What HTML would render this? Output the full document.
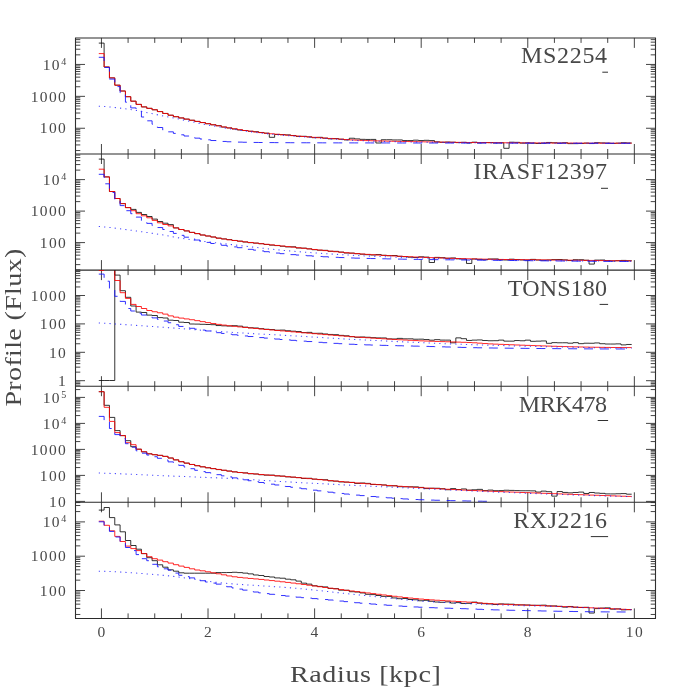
<!DOCTYPE html>
<html><head><meta charset="utf-8"><title>Profiles</title>
<style>
html,body{margin:0;padding:0;background:#fff;}
body{width:692px;height:692px;overflow:hidden;font-family:"Liberation Serif",serif;}
svg{display:block;will-change:transform;}
text{font-family:"Liberation Serif",serif;fill:#484848;}
.tl{font-size:15.5px;letter-spacing:1.3px;}
.sup{font-size:10px;}
.lab{font-size:24px;}
.ttl{font-size:24px;}
.fr{stroke:#303030;fill:none;}
.bk{stroke:#000;stroke-width:0.8;fill:none;}
.rd{stroke:#f00;stroke-width:0.85;fill:none;}
.bd{stroke:#1a1aff;stroke-width:0.9;fill:none;stroke-dasharray:9 7;}
.bt{stroke:#1a1aff;stroke-opacity:0.8;stroke-width:1.05;fill:none;stroke-dasharray:1.2 4.13;}
</style></head><body>
<svg width="692" height="692" viewBox="0 0 692 692">
<rect width="692" height="692" fill="#fff"/>
<defs>
<clipPath id="c0"><rect x="75.5" y="37.70" width="580.0" height="116.70"/></clipPath>
<clipPath id="c1"><rect x="75.5" y="153.80" width="580.0" height="116.70"/></clipPath>
<clipPath id="c2"><rect x="75.5" y="269.90" width="580.0" height="116.70"/></clipPath>
<clipPath id="c3"><rect x="75.5" y="386.00" width="580.0" height="116.70"/></clipPath>
<clipPath id="c4"><rect x="75.5" y="502.10" width="580.0" height="116.70"/></clipPath>
</defs>
<path class="fr" stroke-width="0.9" d="M101.45,37.90v10M101.45,154.00v-10M128.09,37.90v5M128.09,154.00v-5M154.74,37.90v5M154.74,154.00v-5M181.38,37.90v5M181.38,154.00v-5M208.03,37.90v10M208.03,154.00v-10M234.68,37.90v5M234.68,154.00v-5M261.32,37.90v5M261.32,154.00v-5M287.96,37.90v5M287.96,154.00v-5M314.61,37.90v10M314.61,154.00v-10M341.25,37.90v5M341.25,154.00v-5M367.90,37.90v5M367.90,154.00v-5M394.54,37.90v5M394.54,154.00v-5M421.19,37.90v10M421.19,154.00v-10M447.83,37.90v5M447.83,154.00v-5M474.48,37.90v5M474.48,154.00v-5M501.12,37.90v5M501.12,154.00v-5M527.77,37.90v10M527.77,154.00v-10M554.41,37.90v5M554.41,154.00v-5M581.06,37.90v5M581.06,154.00v-5M607.71,37.90v5M607.71,154.00v-5M634.35,37.90v10M634.35,154.00v-10M75.50,150.55h4.8M655.50,150.55h-4.8M75.50,144.93h4.8M655.50,144.93h-4.8M75.50,140.94h4.8M655.50,140.94h-4.8M75.50,137.85h4.8M655.50,137.85h-4.8M75.50,135.33h4.8M655.50,135.33h-4.8M75.50,133.19h4.8M655.50,133.19h-4.8M75.50,131.34h4.8M655.50,131.34h-4.8M75.50,129.71h4.8M655.50,129.71h-4.8M75.50,128.25h9.5M655.50,128.25h-9.5M75.50,118.65h4.8M655.50,118.65h-4.8M75.50,113.03h4.8M655.50,113.03h-4.8M75.50,109.04h4.8M655.50,109.04h-4.8M75.50,105.95h4.8M655.50,105.95h-4.8M75.50,103.43h4.8M655.50,103.43h-4.8M75.50,101.29h4.8M655.50,101.29h-4.8M75.50,99.44h4.8M655.50,99.44h-4.8M75.50,97.81h4.8M655.50,97.81h-4.8M75.50,96.35h9.5M655.50,96.35h-9.5M75.50,86.75h4.8M655.50,86.75h-4.8M75.50,81.13h4.8M655.50,81.13h-4.8M75.50,77.14h4.8M655.50,77.14h-4.8M75.50,74.05h4.8M655.50,74.05h-4.8M75.50,71.53h4.8M655.50,71.53h-4.8M75.50,69.39h4.8M655.50,69.39h-4.8M75.50,67.54h4.8M655.50,67.54h-4.8M75.50,65.91h4.8M655.50,65.91h-4.8M75.50,64.45h9.5M655.50,64.45h-9.5M75.50,54.85h4.8M655.50,54.85h-4.8M75.50,49.23h4.8M655.50,49.23h-4.8M75.50,45.24h4.8M655.50,45.24h-4.8M75.50,42.15h4.8M655.50,42.15h-4.8M75.50,39.63h4.8M655.50,39.63h-4.8M101.45,154.00v10M101.45,270.10v-10M128.09,154.00v5M128.09,270.10v-5M154.74,154.00v5M154.74,270.10v-5M181.38,154.00v5M181.38,270.10v-5M208.03,154.00v10M208.03,270.10v-10M234.68,154.00v5M234.68,270.10v-5M261.32,154.00v5M261.32,270.10v-5M287.96,154.00v5M287.96,270.10v-5M314.61,154.00v10M314.61,270.10v-10M341.25,154.00v5M341.25,270.10v-5M367.90,154.00v5M367.90,270.10v-5M394.54,154.00v5M394.54,270.10v-5M421.19,154.00v10M421.19,270.10v-10M447.83,154.00v5M447.83,270.10v-5M474.48,154.00v5M474.48,270.10v-5M501.12,154.00v5M501.12,270.10v-5M527.77,154.00v10M527.77,270.10v-10M554.41,154.00v5M554.41,270.10v-5M581.06,154.00v5M581.06,270.10v-5M607.71,154.00v5M607.71,270.10v-5M634.35,154.00v10M634.35,270.10v-10M75.50,264.62h4.8M655.50,264.62h-4.8M75.50,259.07h4.8M655.50,259.07h-4.8M75.50,255.14h4.8M655.50,255.14h-4.8M75.50,252.08h4.8M655.50,252.08h-4.8M75.50,249.59h4.8M655.50,249.59h-4.8M75.50,247.48h4.8M655.50,247.48h-4.8M75.50,245.65h4.8M655.50,245.65h-4.8M75.50,244.04h4.8M655.50,244.04h-4.8M75.50,242.60h9.5M655.50,242.60h-9.5M75.50,233.12h4.8M655.50,233.12h-4.8M75.50,227.57h4.8M655.50,227.57h-4.8M75.50,223.64h4.8M655.50,223.64h-4.8M75.50,220.58h4.8M655.50,220.58h-4.8M75.50,218.09h4.8M655.50,218.09h-4.8M75.50,215.98h4.8M655.50,215.98h-4.8M75.50,214.15h4.8M655.50,214.15h-4.8M75.50,212.54h4.8M655.50,212.54h-4.8M75.50,211.10h9.5M655.50,211.10h-9.5M75.50,201.62h4.8M655.50,201.62h-4.8M75.50,196.07h4.8M655.50,196.07h-4.8M75.50,192.14h4.8M655.50,192.14h-4.8M75.50,189.08h4.8M655.50,189.08h-4.8M75.50,186.59h4.8M655.50,186.59h-4.8M75.50,184.48h4.8M655.50,184.48h-4.8M75.50,182.65h4.8M655.50,182.65h-4.8M75.50,181.04h4.8M655.50,181.04h-4.8M75.50,179.60h9.5M655.50,179.60h-9.5M75.50,170.12h4.8M655.50,170.12h-4.8M75.50,164.57h4.8M655.50,164.57h-4.8M75.50,160.64h4.8M655.50,160.64h-4.8M75.50,157.58h4.8M655.50,157.58h-4.8M75.50,155.09h4.8M655.50,155.09h-4.8M101.45,270.10v10M101.45,386.20v-10M128.09,270.10v5M128.09,386.20v-5M154.74,270.10v5M154.74,386.20v-5M181.38,270.10v5M181.38,386.20v-5M208.03,270.10v10M208.03,386.20v-10M234.68,270.10v5M234.68,386.20v-5M261.32,270.10v5M261.32,386.20v-5M287.96,270.10v5M287.96,386.20v-5M314.61,270.10v10M314.61,386.20v-10M341.25,270.10v5M341.25,386.20v-5M367.90,270.10v5M367.90,386.20v-5M394.54,270.10v5M394.54,386.20v-5M421.19,270.10v10M421.19,386.20v-10M447.83,270.10v5M447.83,386.20v-5M474.48,270.10v5M474.48,386.20v-5M501.12,270.10v5M501.12,386.20v-5M527.77,270.10v10M527.77,386.20v-10M554.41,270.10v5M554.41,386.20v-5M581.06,270.10v5M581.06,386.20v-5M607.71,270.10v5M607.71,386.20v-5M634.35,270.10v10M634.35,386.20v-10M75.50,385.10h4.8M655.50,385.10h-4.8M75.50,383.45h4.8M655.50,383.45h-4.8M75.50,382.00h4.8M655.50,382.00h-4.8M75.50,380.70h9.5M655.50,380.70h-9.5M75.50,372.15h4.8M655.50,372.15h-4.8M75.50,367.15h4.8M655.50,367.15h-4.8M75.50,363.60h4.8M655.50,363.60h-4.8M75.50,360.85h4.8M655.50,360.85h-4.8M75.50,358.60h4.8M655.50,358.60h-4.8M75.50,356.70h4.8M655.50,356.70h-4.8M75.50,355.05h4.8M655.50,355.05h-4.8M75.50,353.60h4.8M655.50,353.60h-4.8M75.50,352.30h9.5M655.50,352.30h-9.5M75.50,343.75h4.8M655.50,343.75h-4.8M75.50,338.75h4.8M655.50,338.75h-4.8M75.50,335.20h4.8M655.50,335.20h-4.8M75.50,332.45h4.8M655.50,332.45h-4.8M75.50,330.20h4.8M655.50,330.20h-4.8M75.50,328.30h4.8M655.50,328.30h-4.8M75.50,326.65h4.8M655.50,326.65h-4.8M75.50,325.20h4.8M655.50,325.20h-4.8M75.50,323.90h9.5M655.50,323.90h-9.5M75.50,315.35h4.8M655.50,315.35h-4.8M75.50,310.35h4.8M655.50,310.35h-4.8M75.50,306.80h4.8M655.50,306.80h-4.8M75.50,304.05h4.8M655.50,304.05h-4.8M75.50,301.80h4.8M655.50,301.80h-4.8M75.50,299.90h4.8M655.50,299.90h-4.8M75.50,298.25h4.8M655.50,298.25h-4.8M75.50,296.80h4.8M655.50,296.80h-4.8M75.50,295.50h9.5M655.50,295.50h-9.5M75.50,286.95h4.8M655.50,286.95h-4.8M75.50,281.95h4.8M655.50,281.95h-4.8M75.50,278.40h4.8M655.50,278.40h-4.8M75.50,275.65h4.8M655.50,275.65h-4.8M75.50,273.40h4.8M655.50,273.40h-4.8M75.50,271.50h4.8M655.50,271.50h-4.8M75.50,269.85h4.8M655.50,269.85h-4.8M101.45,386.20v10M101.45,502.30v-10M128.09,386.20v5M128.09,502.30v-5M154.74,386.20v5M154.74,502.30v-5M181.38,386.20v5M181.38,502.30v-5M208.03,386.20v10M208.03,502.30v-10M234.68,386.20v5M234.68,502.30v-5M261.32,386.20v5M261.32,502.30v-5M287.96,386.20v5M287.96,502.30v-5M314.61,386.20v10M314.61,502.30v-10M341.25,386.20v5M341.25,502.30v-5M367.90,386.20v5M367.90,502.30v-5M394.54,386.20v5M394.54,502.30v-5M421.19,386.20v10M421.19,502.30v-10M447.83,386.20v5M447.83,502.30v-5M474.48,386.20v5M474.48,502.30v-5M501.12,386.20v5M501.12,502.30v-5M527.77,386.20v10M527.77,502.30v-10M554.41,386.20v5M554.41,502.30v-5M581.06,386.20v5M581.06,502.30v-5M607.71,386.20v5M607.71,502.30v-5M634.35,386.20v10M634.35,502.30v-10M75.50,502.59h4.8M655.50,502.59h-4.8M75.50,501.40h9.5M655.50,501.40h-9.5M75.50,493.57h4.8M655.50,493.57h-4.8M75.50,488.99h4.8M655.50,488.99h-4.8M75.50,485.75h4.8M655.50,485.75h-4.8M75.50,483.23h4.8M655.50,483.23h-4.8M75.50,481.17h4.8M655.50,481.17h-4.8M75.50,479.43h4.8M655.50,479.43h-4.8M75.50,477.92h4.8M655.50,477.92h-4.8M75.50,476.59h4.8M655.50,476.59h-4.8M75.50,475.40h9.5M655.50,475.40h-9.5M75.50,467.57h4.8M655.50,467.57h-4.8M75.50,462.99h4.8M655.50,462.99h-4.8M75.50,459.75h4.8M655.50,459.75h-4.8M75.50,457.23h4.8M655.50,457.23h-4.8M75.50,455.17h4.8M655.50,455.17h-4.8M75.50,453.43h4.8M655.50,453.43h-4.8M75.50,451.92h4.8M655.50,451.92h-4.8M75.50,450.59h4.8M655.50,450.59h-4.8M75.50,449.40h9.5M655.50,449.40h-9.5M75.50,441.57h4.8M655.50,441.57h-4.8M75.50,436.99h4.8M655.50,436.99h-4.8M75.50,433.75h4.8M655.50,433.75h-4.8M75.50,431.23h4.8M655.50,431.23h-4.8M75.50,429.17h4.8M655.50,429.17h-4.8M75.50,427.43h4.8M655.50,427.43h-4.8M75.50,425.92h4.8M655.50,425.92h-4.8M75.50,424.59h4.8M655.50,424.59h-4.8M75.50,423.40h9.5M655.50,423.40h-9.5M75.50,415.57h4.8M655.50,415.57h-4.8M75.50,410.99h4.8M655.50,410.99h-4.8M75.50,407.75h4.8M655.50,407.75h-4.8M75.50,405.23h4.8M655.50,405.23h-4.8M75.50,403.17h4.8M655.50,403.17h-4.8M75.50,401.43h4.8M655.50,401.43h-4.8M75.50,399.92h4.8M655.50,399.92h-4.8M75.50,398.59h4.8M655.50,398.59h-4.8M75.50,397.40h9.5M655.50,397.40h-9.5M75.50,389.57h4.8M655.50,389.57h-4.8M101.45,502.30v10M101.45,618.40v-10M128.09,502.30v5M128.09,618.40v-5M154.74,502.30v5M154.74,618.40v-5M181.38,502.30v5M181.38,618.40v-5M208.03,502.30v10M208.03,618.40v-10M234.68,502.30v5M234.68,618.40v-5M261.32,502.30v5M261.32,618.40v-5M287.96,502.30v5M287.96,618.40v-5M314.61,502.30v10M314.61,618.40v-10M341.25,502.30v5M341.25,618.40v-5M367.90,502.30v5M367.90,618.40v-5M394.54,502.30v5M394.54,618.40v-5M421.19,502.30v10M421.19,618.40v-10M447.83,502.30v5M447.83,618.40v-5M474.48,502.30v5M474.48,618.40v-5M501.12,502.30v5M501.12,618.40v-5M527.77,502.30v10M527.77,618.40v-10M554.41,502.30v5M554.41,618.40v-5M581.06,502.30v5M581.06,618.40v-5M607.71,502.30v5M607.71,618.40v-5M634.35,502.30v10M634.35,618.40v-10M75.50,614.47h4.8M655.50,614.47h-4.8M75.50,608.43h4.8M655.50,608.43h-4.8M75.50,604.15h4.8M655.50,604.15h-4.8M75.50,600.83h4.8M655.50,600.83h-4.8M75.50,598.11h4.8M655.50,598.11h-4.8M75.50,595.81h4.8M655.50,595.81h-4.8M75.50,593.82h4.8M655.50,593.82h-4.8M75.50,592.07h4.8M655.50,592.07h-4.8M75.50,590.50h9.5M655.50,590.50h-9.5M75.50,580.17h4.8M655.50,580.17h-4.8M75.50,574.13h4.8M655.50,574.13h-4.8M75.50,569.85h4.8M655.50,569.85h-4.8M75.50,566.53h4.8M655.50,566.53h-4.8M75.50,563.81h4.8M655.50,563.81h-4.8M75.50,561.51h4.8M655.50,561.51h-4.8M75.50,559.52h4.8M655.50,559.52h-4.8M75.50,557.77h4.8M655.50,557.77h-4.8M75.50,556.20h9.5M655.50,556.20h-9.5M75.50,545.87h4.8M655.50,545.87h-4.8M75.50,539.83h4.8M655.50,539.83h-4.8M75.50,535.55h4.8M655.50,535.55h-4.8M75.50,532.23h4.8M655.50,532.23h-4.8M75.50,529.51h4.8M655.50,529.51h-4.8M75.50,527.21h4.8M655.50,527.21h-4.8M75.50,525.22h4.8M655.50,525.22h-4.8M75.50,523.47h4.8M655.50,523.47h-4.8M75.50,521.90h9.5M655.50,521.90h-9.5M75.50,511.57h4.8M655.50,511.57h-4.8M75.50,505.53h4.8M655.50,505.53h-4.8"/>
<g clip-path="url(#c0)">
<path class="bk" d="M98.79,43.10H104.11V67.00H109.44V77.90H114.77V85.20H120.10V91.00H125.43V96.70H130.76V101.20H136.09V104.40H141.42V106.90H146.75V108.35H152.08V109.78H157.40V111.57H162.73V113.46H168.06V115.23H173.39V116.69H178.72V117.95H184.05V119.12H189.38V120.25H194.71V121.41H200.04V122.56H205.37V123.69H210.69V124.78H216.02V125.65H221.35V127.08H226.68V127.91H232.01V128.97H237.34V129.97H242.67V130.53H248.00V131.26H253.33V131.70H258.66V132.47H263.98V133.21H269.31V137.32H274.64V134.47H279.97V134.65H285.30V134.88H290.63V135.49H295.96V136.40H301.29V136.29H306.62V136.89H311.95V137.68H317.27V137.32H322.60V138.18H327.93V138.85H333.26V138.58H338.59V139.23H343.92V139.92H349.25V138.24H354.58V138.90H359.91V139.34H365.24V139.45H370.56V139.41H375.89V143.00H381.22V139.73H386.55V139.73H391.88V139.96H397.21V139.94H402.54V140.57H407.87V140.59H413.20V140.17H418.53V140.56H423.85V140.30H429.18V140.59H434.51V141.86H439.84V142.31H445.17V142.05H450.50V142.23H455.83V142.62H461.16V142.32H466.49V142.98H471.82V142.17H477.14V142.89H482.47V142.55H487.80V142.60H493.13V142.88H498.46V142.78H503.79V148.30H509.12V142.21H514.45V142.35H519.78V143.12H525.11V142.92H530.43V143.16H535.76V143.49H541.09V143.19H546.42V142.46H551.75V142.79H557.08V143.15H562.41V142.74H567.74V143.64H573.07V143.63H578.40V143.53H583.72V143.10H589.05V143.55H594.38V142.71H599.71V142.94H605.04V143.13H610.37V143.48H615.70V143.17H621.03V142.76H626.36V143.01H631.69"/>
<path class="rd" d="M98.79,53.60H104.11V67.00H109.44V77.90H114.77V85.20H120.10V91.00H125.43V96.70H130.76V101.20H136.09V104.40H141.42V106.90H146.75V108.35H152.08V109.78H157.40V111.57H162.73V113.46H168.06V115.23H173.39V116.69H178.72V117.95H184.05V119.12H189.38V120.25H194.71V121.41H200.04V122.56H205.37V123.69H210.69V124.78H216.02V125.87H221.35V126.94H226.68V127.95H232.01V128.85H237.34V129.70H242.67V130.50H248.00V131.26H253.33V131.97H258.66V132.62H263.98V133.21H269.31V133.75H274.64V134.26H279.97V134.74H285.30V135.20H290.63V135.64H295.96V136.08H301.29V136.51H306.62V136.92H311.95V137.33H317.27V137.71H322.60V138.09H327.93V138.46H333.26V138.82H338.59V139.18H343.92V139.55H349.25V139.88H354.58V140.17H359.91V140.40H365.24V140.58H370.56V140.75H375.89V140.90H381.22V141.03H386.55V141.16H391.88V141.28H397.21V141.39H402.54V141.49H407.87V141.59H413.20V141.68H418.53V141.77H423.85V141.86H429.18V141.95H434.51V142.04H439.84V142.12H445.17V142.20H450.50V142.28H455.83V142.35H461.16V142.42H466.49V142.49H471.82V142.55H477.14V142.60H482.47V142.65H487.80V142.69H493.13V142.72H498.46V142.75H503.79V142.78H509.12V142.81H514.45V142.84H519.78V142.87H525.11V142.89H530.43V142.92H535.76V142.95H541.09V142.97H546.42V143.00H551.75V143.02H557.08V143.04H562.41V143.06H567.74V143.08H573.07V143.10H578.40V143.12H583.72V143.13H589.05V143.14H594.38V143.16H599.71V143.17H605.04V143.18H610.37V143.19H615.70V143.19H621.03V143.20H626.36V143.20H631.69"/>
<path class="bd" d="M98.79,57.30H104.11V67.50H109.44V79.10H114.77V86.60H120.10V92.70H125.43V102.20H130.76V107.90H136.09V111.30H141.42V117.00H146.75V120.82H152.08V124.22H157.40V127.50H162.73V129.97H168.06V131.83H173.39V133.40H178.72V134.80H184.05V136.03H189.38V137.14H194.71V138.15H200.04V139.04H205.37V139.82H210.69V140.52H216.02V141.04H221.35V141.45H226.68V141.77H232.01V141.97H237.34V142.12H242.67V142.25H248.00V142.36H253.33V142.44H258.66V142.50H263.98V142.55H269.31V142.59H274.64V142.63H279.97V142.66H285.30V142.69H290.63V142.72H295.96V142.74H301.29V142.76H306.62V142.78H311.95V142.80H317.27V142.82H322.60V142.83H327.93V142.84H333.26V142.86H338.59V142.87H343.92V142.88H349.25V142.89H354.58V142.90H359.91V142.91H365.24V142.92H370.56V142.93H375.89V142.94H381.22V142.94H386.55V142.95H391.88V142.96H397.21V142.97H402.54V142.98H407.87V142.98H413.20V142.99H418.53V143.00H423.85V143.01H429.18V143.02H434.51V143.03H439.84V143.03H445.17V143.04H450.50V143.05H455.83V143.06H461.16V143.07H466.49V143.08H471.82V143.08H477.14V143.09H482.47V143.10H487.80V143.11H493.13V143.12H498.46V143.13H503.79V143.13H509.12V143.14H514.45V143.15H519.78V143.16H525.11V143.16H530.43V143.17H535.76V143.18H541.09V143.19H546.42V143.19H551.75V143.20H557.08V143.21H562.41V143.22H567.74V143.22H573.07V143.23H578.40V143.24H583.72V143.24H589.05V143.25H594.38V143.26H599.71V143.26H605.04V143.27H610.37V143.28H615.70V143.28H621.03V143.29H626.36V143.29H631.69"/>
<path class="bt" d="M98.79,106.20L106.78,106.65L112.11,107.18L117.44,107.79L122.77,108.47L128.09,109.20L133.42,109.98L138.75,110.88L144.08,111.92L149.41,113.05L154.74,114.21L160.07,115.35L165.40,116.42L170.73,117.47L176.06,118.51L181.39,119.57L186.71,120.66L192.04,121.80L197.37,122.93L202.70,124.00L208.03,125.01L213.36,125.99L218.69,126.93L224.02,127.84L229.35,128.70L234.68,129.52L240.00,130.31L245.33,131.08L250.66,131.80L255.99,132.49L261.32,133.12L266.65,133.70L271.98,134.25L277.31,134.76L282.64,135.24L287.96,135.70L293.29,136.14L298.62,136.57L303.95,136.98L309.28,137.38L314.61,137.77L319.94,138.14L325.27,138.50L330.60,138.86L335.93,139.21L341.25,139.58L346.58,139.95L351.91,140.29L357.24,140.58L362.57,140.80L367.90,140.97L373.23,141.13L378.56,141.27L383.89,141.40L389.22,141.52L394.55,141.63L399.87,141.73L405.20,141.82L410.53,141.91L415.86,141.99L421.19,142.08L426.52,142.16L431.85,142.24L437.18,142.31L442.51,142.39L447.84,142.46L453.16,142.53L458.49,142.60L463.82,142.66L469.15,142.72L474.48,142.77L479.81,142.82L485.14,142.86L490.47,142.89L495.80,142.92L501.13,142.94L506.45,142.97L511.78,142.99L517.11,143.01L522.44,143.04L527.77,143.06L533.10,143.08L538.43,143.10L543.76,143.12L549.09,143.14L554.41,143.16L559.74,143.17L565.07,143.19L570.40,143.21L575.73,143.22L581.06,143.23L586.39,143.25L591.72,143.26L597.05,143.27L602.38,143.28L607.71,143.28L613.03,143.29L618.36,143.29L623.69,143.30L631.69,143.30"/>
</g>
<g clip-path="url(#c1)">
<path class="bk" d="M98.79,159.10H104.11V176.90H109.44V191.50H114.77V198.50H120.10V203.60H125.43V207.60H130.76V209.40H136.09V212.40H141.42V214.50H146.75V216.50H152.08V219.10H157.40V221.50H162.73V223.20H168.06V224.60H173.39V227.90H178.72V229.50H184.05V230.90H189.38V232.40H194.71V233.60H200.04V235.00H205.37V236.00H210.69V237.00H216.02V238.11H221.35V238.90H226.68V239.62H232.01V240.46H237.34V241.16H242.67V242.01H248.00V242.66H253.33V243.12H258.66V243.68H263.98V244.48H269.31V245.14H274.64V245.58H279.97V246.24H285.30V246.91H290.63V246.81H295.96V248.02H301.29V248.14H306.62V248.87H311.95V249.72H317.27V250.23H322.60V250.32H327.93V251.31H333.26V251.33H338.59V252.10H343.92V253.00H349.25V253.11H354.58V253.70H359.91V254.22H365.24V254.68H370.56V254.98H375.89V254.55H381.22V255.30H386.55V255.66H391.88V255.51H397.21V256.32H402.54V256.66H407.87V257.16H413.20V257.53H418.53V256.81H423.85V257.12H429.18V262.49H434.51V257.38H439.84V257.68H445.17V258.28H450.50V257.96H455.83V258.85H461.16V259.09H466.49V263.44H471.82V258.98H477.14V259.41H482.47V259.74H487.80V258.99H493.13V258.95H498.46V259.88H503.79V259.99H509.12V259.20H514.45V259.55H519.78V259.94H525.11V260.14H530.43V259.38H535.76V260.03H541.09V260.25H546.42V260.00H551.75V259.60H557.08V259.51H562.41V259.87H567.74V260.56H573.07V259.71H578.40V259.73H583.72V260.22H589.05V264.08H594.38V260.10H599.71V260.02H605.04V260.68H610.37V260.96H615.70V260.70H621.03V260.42H626.36V260.73H631.69"/>
<path class="rd" d="M98.79,169.20H104.11V176.90H109.44V191.50H114.77V198.50H120.10V203.60H125.43V207.60H130.76V210.70H136.09V213.70H141.42V215.80H146.75V217.80H152.08V220.40H157.40V222.80H162.73V224.50H168.06V225.90H173.39V227.90H178.72V229.50H184.05V230.90H189.38V232.40H194.71V233.60H200.04V235.00H205.37V236.00H210.69V237.00H216.02V238.20H221.35V239.00H226.68V239.80H232.01V240.51H237.34V241.19H242.67V241.85H248.00V242.48H253.33V243.10H258.66V243.71H263.98V244.30H269.31V244.88H274.64V245.45H279.97V246.02H285.30V246.59H290.63V247.16H295.96V247.73H301.29V248.31H306.62V248.89H311.95V249.47H317.27V250.05H322.60V250.62H327.93V251.17H333.26V251.71H338.59V252.22H343.92V252.72H349.25V253.18H354.58V253.61H359.91V254.00H365.24V254.37H370.56V254.72H375.89V255.06H381.22V255.39H386.55V255.70H391.88V255.99H397.21V256.27H402.54V256.54H407.87V256.79H413.20V257.02H418.53V257.24H423.85V257.44H429.18V257.64H434.51V257.83H439.84V258.01H445.17V258.19H450.50V258.35H455.83V258.51H461.16V258.67H466.49V258.81H471.82V258.94H477.14V259.06H482.47V259.17H487.80V259.26H493.13V259.35H498.46V259.43H503.79V259.50H509.12V259.56H514.45V259.62H519.78V259.67H525.11V259.72H530.43V259.78H535.76V259.83H541.09V259.88H546.42V259.94H551.75V260.00H557.08V260.06H562.41V260.13H567.74V260.19H573.07V260.26H578.40V260.32H583.72V260.39H589.05V260.45H594.38V260.52H599.71V260.59H605.04V260.65H610.37V260.72H615.70V260.79H621.03V260.86H626.36V260.93H631.69"/>
<path class="bd" d="M98.79,174.30H104.11V183.80H109.44V192.50H114.77V199.70H120.10V205.60H125.43V210.70H130.76V213.70H136.09V217.10H141.42V220.80H146.75V223.38H152.08V225.57H157.40V227.55H162.73V229.50H168.06V231.47H173.39V233.41H178.72V235.34H184.05V237.19H189.38V238.72H194.71V240.02H200.04V241.22H205.37V242.40H210.69V243.50H216.02V244.47H221.35V245.32H226.68V246.11H232.01V246.89H237.34V247.69H242.67V248.51H248.00V249.32H253.33V250.13H258.66V250.92H263.98V251.68H269.31V252.40H274.64V253.06H279.97V253.67H285.30V254.20H290.63V254.64H295.96V255.04H301.29V255.42H306.62V255.79H311.95V256.13H317.27V256.46H322.60V256.77H327.93V257.05H333.26V257.32H338.59V257.56H343.92V257.78H349.25V257.98H354.58V258.15H359.91V258.30H365.24V258.43H370.56V258.56H375.89V258.67H381.22V258.79H386.55V258.90H391.88V259.00H397.21V259.09H402.54V259.19H407.87V259.28H413.20V259.36H418.53V259.44H423.85V259.52H429.18V259.59H434.51V259.66H439.84V259.73H445.17V259.80H450.50V259.86H455.83V259.92H461.16V259.98H466.49V260.04H471.82V260.10H477.14V260.16H482.47V260.22H487.80V260.28H493.13V260.33H498.46V260.39H503.79V260.45H509.12V260.51H514.45V260.56H519.78V260.62H525.11V260.67H530.43V260.72H535.76V260.78H541.09V260.83H546.42V260.88H551.75V260.93H557.08V260.98H562.41V261.02H567.74V261.07H573.07V261.11H578.40V261.15H583.72V261.20H589.05V261.24H594.38V261.28H599.71V261.31H605.04V261.35H610.37V261.38H615.70V261.41H621.03V261.44H626.36V261.47H631.69"/>
<path class="bt" d="M98.79,226.50L106.78,227.13L112.11,227.78L117.44,228.45L122.77,229.14L128.09,229.85L133.42,230.57L138.75,231.31L144.08,232.07L149.41,232.85L154.74,233.65L160.07,234.49L165.40,235.36L170.73,236.33L176.06,237.33L181.39,238.27L186.71,239.07L192.04,239.82L197.37,240.53L202.70,241.21L208.03,241.86L213.36,242.49L218.69,243.11L224.02,243.72L229.35,244.33L234.68,244.95L240.00,245.57L245.33,246.20L250.66,246.82L255.99,247.44L261.32,248.05L266.65,248.65L271.98,249.22L277.31,249.77L282.64,250.30L287.96,250.79L293.29,251.24L298.62,251.68L303.95,252.09L309.28,252.50L314.61,252.90L319.94,253.28L325.27,253.64L330.60,254.00L335.93,254.34L341.25,254.66L346.58,254.97L351.91,255.26L357.24,255.54L362.57,255.80L367.90,256.05L373.23,256.28L378.56,256.50L383.89,256.72L389.22,256.92L394.55,257.12L399.87,257.31L405.20,257.49L410.53,257.66L415.86,257.83L421.19,258.00L426.52,258.16L431.85,258.33L437.18,258.49L442.51,258.65L447.84,258.81L453.16,258.96L458.49,259.11L463.82,259.25L469.15,259.38L474.48,259.50L479.81,259.61L485.14,259.71L490.47,259.80L495.80,259.88L501.13,259.96L506.45,260.04L511.78,260.11L517.11,260.19L522.44,260.27L527.77,260.34L533.10,260.41L538.43,260.48L543.76,260.55L549.09,260.62L554.41,260.68L559.74,260.74L565.07,260.80L570.40,260.85L575.73,260.90L581.06,260.95L586.39,261.00L591.72,261.04L597.05,261.07L602.38,261.11L607.71,261.13L613.03,261.16L618.36,261.18L623.69,261.19L631.69,261.20"/>
</g>
<g clip-path="url(#c2)">
<path class="bk" d="M98.79,380.50H104.11V380.50H109.44V380.50H114.77V265.10M114.77,265.10V275.10H120.10V290.70H125.43V297.30H130.76V306.00H136.09V312.10H141.42V312.50H146.75V315.10H152.08V315.50H157.40V317.60H162.73V318.00H168.06V320.20H173.39V320.50H178.72V322.20H184.05V322.50H189.38V324.00H194.71V324.10H200.04V324.30H205.37V324.50H210.69V324.70H216.02V325.55H221.35V325.83H226.68V326.06H232.01V325.69H237.34V326.13H242.67V327.15H248.00V327.75H253.33V327.98H258.66V328.68H263.98V329.24H269.31V329.55H274.64V330.21H279.97V330.08H285.30V330.72H290.63V331.18H295.96V331.52H301.29V332.59H306.62V332.36H311.95V333.32H317.27V333.28H322.60V333.96H327.93V334.44H333.26V334.66H338.59V335.37H343.92V335.79H349.25V336.63H354.58V337.29H359.91V336.99H365.24V337.26H370.56V337.66H375.89V337.91H381.22V337.94H386.55V338.89H391.88V338.99H397.21V338.39H402.54V338.84H407.87V338.83H413.20V339.22H418.53V339.16H423.85V339.55H429.18V340.18H434.51V339.65H439.84V340.08H445.17V340.11H450.50V342.80H455.83V337.87H461.16V338.69H466.49V340.44H471.82V340.12H477.14V339.95H482.47V340.51H487.80V340.75H493.13V340.69H498.46V340.11H503.79V341.13H509.12V341.15H514.45V340.54H519.78V340.78H525.11V340.15H530.43V341.32H535.76V341.15H541.09V340.96H546.42V343.31H551.75V342.63H557.08V342.79H562.41V342.75H567.74V343.20H573.07V342.65H578.40V343.67H583.72V343.21H589.05V343.26H594.38V342.94H599.71V343.72H605.04V344.03H610.37V344.04H615.70V343.88H621.03V344.88H626.36V344.47H631.69"/>
<path class="rd" d="M98.79,262.00H104.11V262.00H109.44V262.00H114.77V280.50H120.10V292.70H125.43V298.40H130.76V304.40H136.09V306.50H141.42V308.50H146.75V310.50H152.08V311.74H157.40V312.77H162.73V314.11H168.06V315.88H173.39V317.16H178.72V318.10H184.05V318.91H189.38V319.73H194.71V320.66H200.04V321.64H205.37V322.62H210.69V323.55H216.02V324.38H221.35V325.09H226.68V325.74H232.01V326.33H237.34V326.91H242.67V327.46H248.00V327.99H253.33V328.50H258.66V329.01H263.98V329.50H269.31V329.98H274.64V330.45H279.97V330.92H285.30V331.38H290.63V331.85H295.96V332.31H301.29V332.77H306.62V333.23H311.95V333.68H317.27V334.13H322.60V334.58H327.93V335.01H333.26V335.44H338.59V335.86H343.92V336.26H349.25V336.65H354.58V337.03H359.91V337.40H365.24V337.76H370.56V338.11H375.89V338.45H381.22V338.79H386.55V339.12H391.88V339.43H397.21V339.74H402.54V340.03H407.87V340.31H413.20V340.58H418.53V340.83H423.85V341.06H429.18V341.26H434.51V341.44H439.84V341.61H445.17V341.77H450.50V341.94H455.83V342.11H461.16V342.31H466.49V342.53H471.82V342.78H477.14V343.15H482.47V343.55H487.80V343.90H493.13V344.13H498.46V344.35H503.79V344.56H509.12V344.77H514.45V344.98H519.78V345.18H525.11V345.38H530.43V345.57H535.76V345.75H541.09V345.93H546.42V346.10H551.75V346.27H557.08V346.43H562.41V346.58H567.74V346.72H573.07V346.85H578.40V346.97H583.72V347.09H589.05V347.19H594.38V347.28H599.71V347.36H605.04V347.43H610.37V347.49H615.70V347.54H621.03V347.57H626.36V347.59H631.69"/>
<path class="bd" d="M98.79,274.10H104.11V281.20H109.44V289.00H114.77V296.30H120.10V301.40H125.43V308.50H130.76V311.00H136.09V313.23H141.42V315.04H146.75V316.49H152.08V317.90H157.40V319.44H162.73V321.04H168.06V322.74H173.39V324.71H178.72V326.45H184.05V327.49H189.38V328.29H194.71V329.15H200.04V330.06H205.37V330.97H210.69V331.83H216.02V332.67H221.35V333.45H226.68V334.13H232.01V334.76H237.34V335.37H242.67V335.96H248.00V336.53H253.33V337.07H258.66V337.59H263.98V338.10H269.31V338.58H274.64V339.05H279.97V339.49H285.30V339.92H290.63V340.34H295.96V340.75H301.29V341.15H306.62V341.55H311.95V341.94H317.27V342.32H322.60V342.69H327.93V343.04H333.26V343.37H338.59V343.69H343.92V343.98H349.25V344.25H354.58V344.49H359.91V344.70H365.24V344.89H370.56V345.06H375.89V345.22H381.22V345.36H386.55V345.50H391.88V345.63H397.21V345.76H402.54V345.88H407.87V346.00H413.20V346.13H418.53V346.26H423.85V346.40H429.18V346.54H434.51V346.69H439.84V346.84H445.17V346.99H450.50V347.14H455.83V347.29H461.16V347.43H466.49V347.57H471.82V347.69H477.14V347.80H482.47V347.89H487.80V347.97H493.13V348.04H498.46V348.10H503.79V348.16H509.12V348.22H514.45V348.28H519.78V348.33H525.11V348.39H530.43V348.44H535.76V348.49H541.09V348.54H546.42V348.59H551.75V348.63H557.08V348.68H562.41V348.72H567.74V348.76H573.07V348.79H578.40V348.83H583.72V348.86H589.05V348.89H594.38V348.91H599.71V348.94H605.04V348.95H610.37V348.97H615.70V348.98H621.03V348.99H626.36V349.00H631.69"/>
<path class="bt" d="M98.79,323.00L106.78,323.36L112.11,323.72L117.44,324.09L122.77,324.46L128.09,324.82L133.42,325.19L138.75,325.57L144.08,325.94L149.41,326.32L154.74,326.69L160.07,327.07L165.40,327.45L170.73,327.84L176.06,328.24L181.39,328.65L186.71,329.06L192.04,329.47L197.37,329.88L202.70,330.28L208.03,330.68L213.36,331.08L218.69,331.46L224.02,331.84L229.35,332.19L234.68,332.53L240.00,332.86L245.33,333.18L250.66,333.48L255.99,333.78L261.32,334.07L266.65,334.36L271.98,334.65L277.31,334.94L282.64,335.23L287.96,335.53L293.29,335.83L298.62,336.14L303.95,336.46L309.28,336.79L314.61,337.11L319.94,337.44L325.27,337.77L330.60,338.10L335.93,338.42L341.25,338.74L346.58,339.05L351.91,339.34L357.24,339.63L362.57,339.90L367.90,340.16L373.23,340.43L378.56,340.69L383.89,340.94L389.22,341.20L394.55,341.46L399.87,341.71L405.20,341.96L410.53,342.20L415.86,342.44L421.19,342.68L426.52,342.91L431.85,343.14L437.18,343.36L442.51,343.58L447.84,343.79L453.16,344.00L458.49,344.20L463.82,344.39L469.15,344.57L474.48,344.75L479.81,344.92L485.14,345.09L490.47,345.24L495.80,345.39L501.13,345.53L506.45,345.68L511.78,345.82L517.11,345.96L522.44,346.10L527.77,346.23L533.10,346.37L538.43,346.50L543.76,346.62L549.09,346.75L554.41,346.87L559.74,346.99L565.07,347.10L570.40,347.22L575.73,347.32L581.06,347.43L586.39,347.53L591.72,347.62L597.05,347.71L602.38,347.80L607.71,347.88L613.03,347.95L618.36,348.02L623.69,348.09L631.69,348.15"/>
</g>
<g clip-path="url(#c3)">
<path class="bk" d="M98.79,391.70H104.11V405.30H109.44V417.40H114.77V430.60H120.10V435.60H125.43V440.70H130.76V446.70H136.09V449.20H141.42V451.80H146.75V453.80H152.08V454.71H157.40V455.37H162.73V456.39H168.06V458.00H173.39V459.89H178.72V461.69H184.05V463.14H189.38V464.47H194.71V465.69H200.04V466.80H205.37V467.76H210.69V468.61H216.02V469.58H221.35V470.30H226.68V471.03H232.01V471.87H237.34V472.54H242.67V472.88H248.00V473.75H253.33V473.98H258.66V474.74H263.98V475.15H269.31V475.09H274.64V475.89H279.97V476.09H285.30V476.86H290.63V477.18H295.96V477.60H301.29V478.44H306.62V478.27H311.95V479.17H317.27V479.48H322.60V479.72H327.93V480.83H333.26V481.15H338.59V481.93H343.92V482.14H349.25V482.36H354.58V483.43H359.91V483.03H365.24V483.38H370.56V484.48H375.89V484.54H381.22V484.93H386.55V485.88H391.88V485.69H397.21V486.69H402.54V486.80H407.87V486.81H413.20V486.86H418.53V487.40H423.85V488.58H429.18V488.23H434.51V488.25H439.84V488.72H445.17V489.73H450.50V488.60H455.83V489.53H461.16V488.95H466.49V490.13H471.82V489.79H477.14V489.37H482.47V490.60H487.80V490.08H493.13V490.69H498.46V490.60H503.79V490.24H509.12V490.40H514.45V490.60H519.78V490.75H525.11V490.75H530.43V490.86H535.76V492.06H541.09V491.13H546.42V491.71H551.75V496.14H557.08V491.56H562.41V492.43H567.74V492.85H573.07V492.48H578.40V492.10H583.72V493.47H589.05V492.48H594.38V493.04H599.71V493.35H605.04V493.89H610.37V493.92H615.70V493.76H621.03V493.60H626.36V494.20H631.69"/>
<path class="rd" d="M98.79,391.70H104.11V407.30H109.44V421.40H114.77V432.60H120.10V435.60H125.43V442.70H130.76V444.70H136.09V449.20H141.42V451.80H146.75V453.80H152.08V454.71H157.40V455.37H162.73V456.39H168.06V458.00H173.39V459.89H178.72V461.69H184.05V463.14H189.38V464.47H194.71V465.69H200.04V466.80H205.37V467.76H210.69V468.61H216.02V469.42H221.35V470.26H226.68V471.15H232.01V471.86H237.34V472.47H242.67V473.03H248.00V473.54H253.33V474.03H258.66V474.49H263.98V474.93H269.31V475.36H274.64V475.79H279.97V476.22H285.30V476.68H290.63V477.15H295.96V477.64H301.29V478.13H306.62V478.63H311.95V479.12H317.27V479.62H322.60V480.12H327.93V480.61H333.26V481.10H338.59V481.58H343.92V482.05H349.25V482.51H354.58V482.96H359.91V483.40H365.24V483.83H370.56V484.25H375.89V484.67H381.22V485.08H386.55V485.48H391.88V485.88H397.21V486.27H402.54V486.64H407.87V487.01H413.20V487.36H418.53V487.70H423.85V488.03H429.18V488.35H434.51V488.66H439.84V488.96H445.17V489.25H450.50V489.54H455.83V489.81H461.16V490.07H466.49V490.33H471.82V490.57H477.14V490.80H482.47V491.01H487.80V491.22H493.13V491.43H498.46V491.63H503.79V491.84H509.12V492.05H514.45V492.26H519.78V492.47H525.11V492.67H530.43V492.88H535.76V493.08H541.09V493.29H546.42V493.49H551.75V493.69H557.08V493.89H562.41V494.09H567.74V494.29H573.07V494.49H578.40V494.69H583.72V494.89H589.05V495.08H594.38V495.28H599.71V495.47H605.04V495.66H610.37V495.85H615.70V496.04H621.03V496.23H626.36V496.41H631.69"/>
<path class="bd" d="M98.79,416.40H104.11V421.40H109.44V428.50H114.77V434.60H120.10V438.50H125.43V443.70H130.76V447.20H136.09V450.80H141.42V453.20H146.75V455.05H152.08V456.73H157.40V458.31H162.73V460.00H168.06V461.86H173.39V463.67H178.72V465.36H184.05V467.00H189.38V468.69H194.71V470.31H200.04V471.59H205.37V472.61H210.69V473.58H216.02V474.67H221.35V475.83H226.68V476.90H232.01V477.89H237.34V478.86H242.67V479.80H248.00V480.72H253.33V481.62H258.66V482.49H263.98V483.34H269.31V484.17H274.64V484.97H279.97V485.76H285.30V486.53H290.63V487.27H295.96V488.01H301.29V488.74H306.62V489.46H311.95V490.17H317.27V490.87H322.60V491.55H327.93V492.20H333.26V492.84H338.59V493.45H343.92V494.04H349.25V494.59H354.58V495.11H359.91V495.60H365.24V496.07H370.56V496.53H375.89V496.98H381.22V497.42H386.55V497.84H391.88V498.23H397.21V498.61H402.54V498.95H407.87V499.25H413.20V499.52H418.53V499.74H423.85V499.93H429.18V500.10H434.51V500.26H439.84V500.41H445.17V500.55H450.50V500.67H455.83V500.79H461.16V500.91H466.49V501.01H471.82V501.11H477.14V501.20H482.47V501.29H487.80"/>
<path class="bt" d="M98.79,473.00L106.78,473.24L112.11,473.47L117.44,473.71L122.77,473.94L128.09,474.18L133.42,474.41L138.75,474.64L144.08,474.87L149.41,475.10L154.74,475.33L160.07,475.56L165.40,475.79L170.73,476.01L176.06,476.23L181.39,476.44L186.71,476.65L192.04,476.86L197.37,477.07L202.70,477.28L208.03,477.50L213.36,477.72L218.69,477.95L224.02,478.19L229.35,478.44L234.68,478.71L240.00,478.99L245.33,479.29L250.66,479.61L255.99,479.94L261.32,480.27L266.65,480.61L271.98,480.95L277.31,481.28L282.64,481.61L287.96,481.93L293.29,482.23L298.62,482.52L303.95,482.81L309.28,483.09L314.61,483.38L319.94,483.65L325.27,483.93L330.60,484.20L335.93,484.47L341.25,484.74L346.58,485.00L351.91,485.27L357.24,485.53L362.57,485.80L367.90,486.06L373.23,486.33L378.56,486.59L383.89,486.85L389.22,487.10L394.55,487.36L399.87,487.62L405.20,487.87L410.53,488.12L415.86,488.37L421.19,488.62L426.52,488.88L431.85,489.13L437.18,489.38L442.51,489.64L447.84,489.89L453.16,490.15L458.49,490.40L463.82,490.65L469.15,490.89L474.48,491.13L479.81,491.37L485.14,491.59L490.47,491.81L495.80,492.03L501.13,492.24L506.45,492.45L511.78,492.66L517.11,492.87L522.44,493.07L527.77,493.27L533.10,493.48L538.43,493.67L543.76,493.87L549.09,494.07L554.41,494.26L559.74,494.45L565.07,494.64L570.40,494.82L575.73,495.00L581.06,495.18L586.39,495.36L591.72,495.53L597.05,495.70L602.38,495.87L607.71,496.03L613.03,496.19L618.36,496.35L623.69,496.50L631.69,496.65"/>
</g>
<g clip-path="url(#c4)">
<path class="bk" d="M98.79,510.10H104.11V507.50H109.44V517.60H114.77V524.90H120.10V531.80H125.43V540.50H130.76V545.50H136.09V549.20H141.42V553.60H146.75V557.70H152.08V560.70H157.40V564.80H162.73V567.20H168.06V569.80H173.39V571.20H178.72V572.80H184.05V573.20H189.38V573.20H194.71V573.20H200.04V573.20H205.37V573.20H210.69V573.20H216.02V572.58H221.35V572.59H226.68V572.52H232.01V572.28H237.34V572.61H242.67V573.13H248.00V573.87H253.33V574.97H258.66V575.49H263.98V576.52H269.31V577.00H274.64V577.93H279.97V578.21H285.30V579.18H290.63V579.80H295.96V581.12H301.29V583.16H306.62V584.12H311.95V585.75H317.27V586.42H322.60V586.90H327.93V588.41H333.26V588.62H338.59V590.18H343.92V590.27H349.25V591.71H354.58V592.02H359.91V592.95H365.24V594.30H370.56V594.60H375.89V595.53H381.22V596.37H386.55V596.44H391.88V597.93H397.21V598.70H402.54V598.50H407.87V599.53H413.20V599.76H418.53V600.75H423.85V600.33H429.18V601.29H434.51V602.00H439.84V602.29H445.17V601.87H450.50V603.04H455.83V602.60H461.16V603.52H466.49V603.34H471.82V602.10H477.14V603.19H482.47V603.69H487.80V603.92H493.13V604.52H498.46V603.91H503.79V604.10H509.12V604.19H514.45V604.85H519.78V604.86H525.11V604.98H530.43V605.29H535.76V605.26H541.09V605.15H546.42V605.93H551.75V605.91H557.08V606.35H562.41V607.15H567.74V606.47H573.07V607.26H578.40V607.50H583.72V607.30H589.05V613.07H594.38V608.60H599.71V608.09H605.04V607.85H610.37V609.18H615.70V608.86H621.03V609.87H626.36V609.69H631.69"/>
<path class="rd" d="M98.79,521.20H104.11V525.30H109.44V530.80H114.77V536.40H120.10V541.50H125.43V546.10H130.76V548.60H136.09V550.60H141.42V553.60H146.75V556.70H152.08V558.70H157.40V560.10H162.73V561.70H168.06V563.10H173.39V564.70H178.72V566.10H184.05V567.40H189.38V568.80H194.71V570.00H200.04V570.80H205.37V571.77H210.69V572.80H216.02V573.79H221.35V574.82H226.68V575.95H232.01V576.79H237.34V577.42H242.67V577.96H248.00V578.44H253.33V578.92H258.66V579.43H263.98V580.00H269.31V580.59H274.64V581.18H279.97V581.79H285.30V582.42H290.63V583.07H295.96V583.75H301.29V584.47H306.62V585.22H311.95V585.98H317.27V586.74H322.60V587.49H327.93V588.22H333.26V588.92H338.59V589.62H343.92V590.30H349.25V590.98H354.58V591.65H359.91V592.30H365.24V592.95H370.56V593.62H375.89V594.29H381.22V594.96H386.55V595.63H391.88V596.28H397.21V596.90H402.54V597.50H407.87V598.07H413.20V598.59H418.53V599.07H423.85V599.49H429.18V599.88H434.51V600.24H439.84V600.57H445.17V600.88H450.50V601.19H455.83V601.50H461.16V601.82H466.49V602.15H471.82V602.51H477.14V602.91H482.47V603.32H487.80V603.68H493.13V603.96H498.46V604.20H503.79V604.42H509.12V604.62H514.45V604.80H519.78V604.98H525.11V605.16H530.43V605.34H535.76V605.53H541.09V605.74H546.42V605.96H551.75V606.18H557.08V606.41H562.41V606.63H567.74V606.86H573.07V607.09H578.40V607.32H583.72V607.56H589.05V607.80H594.38V608.04H599.71V608.28H605.04V608.53H610.37V608.78H615.70V609.03H621.03V609.28H626.36V609.54H631.69"/>
<path class="bd" d="M98.79,521.80H104.11V525.90H109.44V531.40H114.77V537.00H120.10V542.10H125.43V547.50H130.76V550.60H136.09V554.60H141.42V558.70H146.75V560.70H152.08V564.30H157.40V566.80H162.73V568.80H168.06V570.20H173.39V573.09H178.72V575.27H184.05V576.63H189.38V577.90H194.71V579.31H200.04V580.71H205.37V582.00H210.69V583.10H216.02V584.14H221.35V585.38H226.68V586.77H232.01V587.97H237.34V589.08H242.67V590.13H248.00V591.12H253.33V592.03H258.66V592.87H263.98V593.62H269.31V594.30H274.64V594.94H279.97V595.54H285.30V596.10H290.63V596.65H295.96V597.18H301.29V597.67H306.62V598.14H311.95V598.60H317.27V599.05H322.60V599.52H327.93V600.00H333.26V600.51H338.59V601.06H343.92V601.63H349.25V602.19H354.58V602.72H359.91V603.20H365.24V603.64H370.56V604.07H375.89V604.49H381.22V604.90H386.55V605.29H391.88V605.67H397.21V606.02H402.54V606.36H407.87V606.68H413.20V606.96H418.53V607.23H423.85V607.46H429.18V607.67H434.51V607.86H439.84V608.03H445.17V608.20H450.50V608.36H455.83V608.52H461.16V608.69H466.49V608.87H471.82V609.06H477.14V609.30H482.47V609.54H487.80V609.74H493.13V609.88H498.46V610.01H503.79V610.14H509.12V610.27H514.45V610.40H519.78V610.52H525.11V610.64H530.43V610.76H535.76V610.87H541.09V610.98H546.42V611.09H551.75V611.19H557.08V611.28H562.41V611.38H567.74V611.46H573.07V611.54H578.40V611.62H583.72V611.69H589.05V611.75H594.38V611.81H599.71V611.86H605.04V611.90H610.37V611.93H615.70V611.96H621.03V611.98H626.36V612.00H631.69"/>
<path class="bt" d="M98.79,571.20L106.78,571.40L112.11,571.64L117.44,571.91L122.77,572.21L128.09,572.54L133.42,572.90L138.75,573.29L144.08,573.70L149.41,574.12L154.74,574.56L160.07,575.02L165.40,575.50L170.73,576.06L176.06,576.72L181.39,577.44L186.71,578.20L192.04,579.00L197.37,579.79L202.70,580.58L208.03,581.32L213.36,582.01L218.69,582.63L224.02,583.15L229.35,583.61L234.68,584.03L240.00,584.42L245.33,584.79L250.66,585.13L255.99,585.47L261.32,585.80L266.65,586.14L271.98,586.48L277.31,586.83L282.64,587.21L287.96,587.61L293.29,588.05L298.62,588.52L303.95,589.02L309.28,589.55L314.61,590.10L319.94,590.66L325.27,591.24L330.60,591.83L335.93,592.42L341.25,593.02L346.58,593.61L351.91,594.18L357.24,594.75L362.57,595.30L367.90,595.85L373.23,596.41L378.56,596.99L383.89,597.57L389.22,598.14L394.55,598.70L399.87,599.25L405.20,599.76L410.53,600.25L415.86,600.69L421.19,601.09L426.52,601.45L431.85,601.78L437.18,602.10L442.51,602.41L447.84,602.71L453.16,602.99L458.49,603.25L463.82,603.51L469.15,603.75L474.48,603.98L479.81,604.21L485.14,604.42L490.47,604.62L495.80,604.81L501.13,604.99L506.45,605.15L511.78,605.30L517.11,605.45L522.44,605.59L527.77,605.73L533.10,605.86L538.43,606.01L543.76,606.16L549.09,606.32L554.41,606.50L559.74,606.69L565.07,606.88L570.40,607.09L575.73,607.29L581.06,607.51L586.39,607.73L591.72,607.96L597.05,608.19L602.38,608.43L607.71,608.68L613.03,608.93L618.36,609.19L623.69,609.46L631.69,609.73"/>
</g>
<path class="fr" stroke-width="1.1" d="M75.5,37.9V618.4M655.5,37.9V618.4"/>
<path stroke="#2a2a2a" fill="none" stroke-width="1.05" d="M75.0,37.9H656.0M75.0,154.0H656.0M75.0,270.1H656.0M75.0,386.2H656.0M75.0,502.3H656.0M75.0,618.4H656.0"/>
<path stroke="#e00" stroke-opacity="0.8" stroke-width="1" fill="none" d="M98.79,270.5H104.11"/>
<text class="lab" x="521.0" y="63.3" textLength="86.1" lengthAdjust="spacing">MS2254</text>
<path class="fr" stroke-width="1" d="M602.3,72.2H608.0"/>
<text class="lab" x="473.6" y="179.4" textLength="133.4" lengthAdjust="spacing">IRASF12397</text>
<path class="fr" stroke-width="1" d="M601,188.3H608"/>
<text class="lab" x="507.8" y="295.5" textLength="99.2" lengthAdjust="spacing">TONS180</text>
<path class="fr" stroke-width="1" d="M599.6,304.4H608.1"/>
<text class="lab" x="518.8" y="411.6" textLength="88.2" lengthAdjust="spacing">MRK478</text>
<path class="fr" stroke-width="1" d="M597.7,420.5H608.1"/>
<text class="lab" x="513.3" y="527.7" textLength="93.7" lengthAdjust="spacing">RXJ2216</text>
<path class="fr" stroke-width="1" d="M590.8,536.6H608.1"/>
<text class="tl" x="60.8" y="69.7" text-anchor="end">10</text><text class="sup" x="61.3" y="64.7">4</text>
<text class="tl" x="67" y="101.5" text-anchor="end">1000</text>
<text class="tl" x="67" y="133.4" text-anchor="end">100</text>
<text class="tl" x="60.8" y="184.8" text-anchor="end">10</text><text class="sup" x="61.3" y="179.8">4</text>
<text class="tl" x="67" y="216.3" text-anchor="end">1000</text>
<text class="tl" x="67" y="247.8" text-anchor="end">100</text>
<text class="tl" x="67" y="300.8" text-anchor="end">1000</text>
<text class="tl" x="67" y="329.1" text-anchor="end">100</text>
<text class="tl" x="67" y="357.6" text-anchor="end">10</text>
<text class="tl" x="67" y="386.0" text-anchor="end">1</text>
<text class="tl" x="60.8" y="402.6" text-anchor="end">10</text><text class="sup" x="61.3" y="397.6">5</text>
<text class="tl" x="60.8" y="428.6" text-anchor="end">10</text><text class="sup" x="61.3" y="423.6">4</text>
<text class="tl" x="67" y="454.6" text-anchor="end">1000</text>
<text class="tl" x="67" y="480.6" text-anchor="end">100</text>
<text class="tl" x="67" y="506.8" text-anchor="end">10</text>
<text class="tl" x="60.8" y="527.1" text-anchor="end">10</text><text class="sup" x="61.3" y="522.1">4</text>
<text class="tl" x="67" y="561.4" text-anchor="end">1000</text>
<text class="tl" x="67" y="595.7" text-anchor="end">100</text>
<text class="tl" x="102.0" y="636.8" text-anchor="middle">0</text>
<text class="tl" x="208.5" y="636.8" text-anchor="middle">2</text>
<text class="tl" x="315.1" y="636.8" text-anchor="middle">4</text>
<text class="tl" x="421.7" y="636.8" text-anchor="middle">6</text>
<text class="tl" x="528.3" y="636.8" text-anchor="middle">8</text>
<text class="tl" x="634.9" y="636.8" text-anchor="middle">10</text>
<g transform="translate(290.0,681.7) scale(1.17,1)"><text class="ttl" x="0" y="0" textLength="128.9" lengthAdjust="spacing">Radius [kpc]</text></g>
<g transform="translate(20.8,406.6) rotate(-90) scale(1.17,1)"><text class="ttl" x="0" y="0" textLength="135.0" lengthAdjust="spacing">Profile (Flux)</text></g>
</svg></body></html>
